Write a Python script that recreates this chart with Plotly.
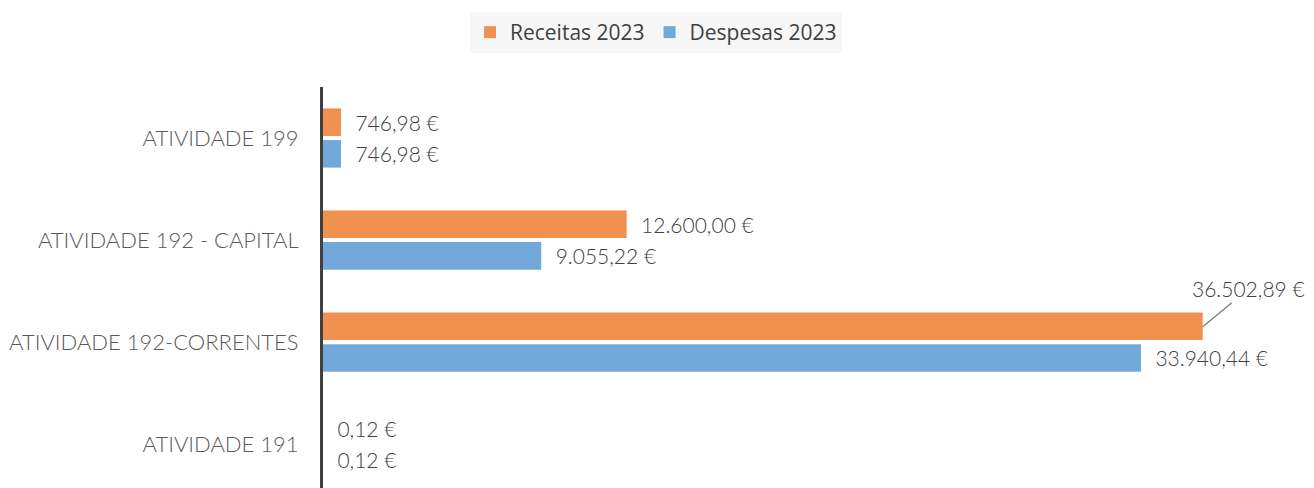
import plotly.graph_objects as go

categories = ['ATIVIDADE 199', 'ATIVIDADE 192 - CAPITAL', 'ATIVIDADE 192-CORRENTES', 'ATIVIDADE 191']
receitas = [746.98, 12600.00, 36502.89, 0.12]
despesas = [746.98, 9055.22, 33940.44, 0.12]
receitas_labels = ['746,98 €', '12.600,00 €', '', '0,12 €']
despesas_labels = ['746,98 €', '9.055,22 €', '33.940,44 €', '0,12 €']

ORANGE = '#F0914F'
BLUE = '#73A8DA'
FONT = 'Open Sans'
LIGHT = 'Lato'
pad = '\u00a0\u00a0'

# page body has an 8px margin, so the figure is sized/shifted to compensate
W, H = 1306, 480

fig = go.Figure()
fig.add_trace(go.Bar(
    y=categories, x=receitas, name='Receitas 2023', orientation='h',
    marker=dict(color=ORANGE, line=dict(width=0)),
    text=[pad + t if t else '' for t in receitas_labels],
    textposition='outside', cliponaxis=False,
    textfont=dict(family=LIGHT, size=21, color='#404040', weight=300),
))
fig.add_trace(go.Bar(
    y=categories, x=despesas, name='Despesas 2023', orientation='h',
    marker=dict(color=BLUE, line=dict(width=0)),
    text=[pad + t for t in despesas_labels],
    textposition='outside', cliponaxis=False,
    textfont=dict(family=LIGHT, size=21, color='#404040', weight=300),
))

# leader line label for the largest bar
fig.add_annotation(
    x=receitas[2], y=2 - 0.15, xref='x', yref='y',
    text='36.502,89 €', showarrow=True, arrowhead=0, arrowwidth=1.5,
    arrowcolor='#808080', ax=46, ay=-38, standoff=0,
    font=dict(family=LIGHT, size=21, color='#404040', weight=300),
)

fig.update_layout(
    width=W, height=H,
    margin=dict(l=315, r=0, t=79, b=0, autoexpand=False),
    paper_bgcolor='white', plot_bgcolor='white',
    barmode='group', bargap=0.38, bargroupgap=0.13,
    showlegend=True,
    legend=dict(
        orientation='h', xref='container', yref='container',
        x=648 / W, xanchor='center', y=1 - 4 / H, yanchor='top',
        bgcolor='#F7F7F7', font=dict(family=FONT, size=21, color='#404040'),
        borderwidth=0,
    ),
    font=dict(family=FONT),
)
fig.update_xaxes(range=[0, 41120], visible=False)
fig.update_yaxes(
    range=[3.43, -0.5], showline=True, linecolor='#404040', linewidth=3,
    showgrid=False, ticks='', ticklabelstandoff=17, automargin=False,
    tickfont=dict(family=LIGHT, size=22, color='#595959', weight=300),
)

fig.write_html('out.html')
